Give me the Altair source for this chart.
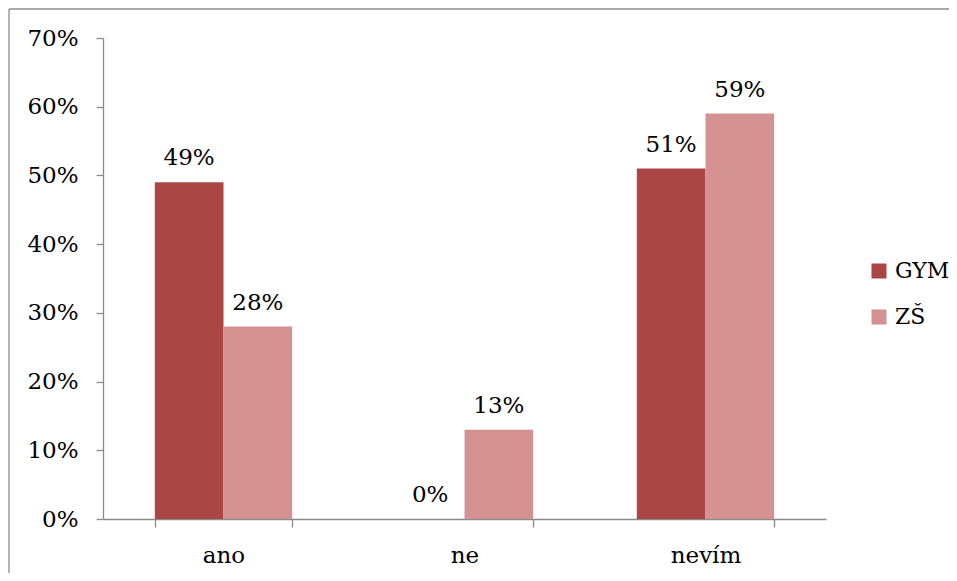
import altair as alt
import pandas as pd

categories = ["ano", "ne", "nevím"]
series = ["GYM", "ZŠ"]
gym_values = [0.49, 0.00, 0.51]
zs_values = [0.28, 0.13, 0.59]
colors = ["#AA4744", "#D39192"]
y_ticks = [0.0, 0.1, 0.2, 0.3, 0.4, 0.5, 0.6, 0.7]

rows = []
for i, c in enumerate(categories):
    rows.append({"kat": c, "skupina": series[0], "hodnota": gym_values[i]})
    rows.append({"kat": c, "skupina": series[1], "hodnota": zs_values[i]})
df = pd.DataFrame(rows)

FONT = "DejaVu Serif"
FS = 23
W, H = 723, 481
PL, PT, PR, PB = 95, 30, 123, 54
AXC = "#8a8a8a"

base = alt.Chart(df).encode(
    x=alt.X(
        "kat:N",
        sort=categories,
        title=None,
        scale=alt.Scale(paddingInner=0.43, paddingOuter=0.215),
        axis=alt.Axis(
            labelAngle=0,
            tickBand="extent",
            tickSize=8,
            labelPadding=35,
            labelBaseline="alphabetic",
            labelFont=FONT,
            labelFontSize=FS,
            labelColor="#000000",
            domainColor=AXC,
            tickColor=AXC,
            domainWidth=1.3,
            tickWidth=1.3,
            grid=False,
        ),
    ),
    xOffset=alt.XOffset("skupina:N", sort=series, scale=alt.Scale(paddingInner=0, paddingOuter=0)),
    y=alt.Y(
        "hodnota:Q",
        title=None,
        scale=alt.Scale(domain=[0, 0.7], nice=False),
        axis=alt.Axis(
            values=y_ticks,
            format=".0%",
            tickSize=7,
            labelPadding=18,
            labelFont=FONT,
            labelFontSize=FS,
            labelColor="#000000",
            domainColor=AXC,
            tickColor=AXC,
            domainWidth=1.3,
            tickWidth=1.3,
            grid=False,
        ),
    ),
)

bars = base.mark_bar().encode(
    color=alt.Color(
        "skupina:N",
        sort=series,
        scale=alt.Scale(domain=series, range=colors),
        legend=alt.Legend(
            title=None,
            orient="none",
            legendX=765,
            legendY=222,
            symbolType="square",
            symbolSize=225,
            symbolStrokeWidth=0,
            labelFont=FONT,
            labelFontSize=22,
            labelColor="#000000",
            labelOffset=5,
            rowPadding=24,
            padding=0,
        ),
    )
)

labels = base.mark_text(
    font=FONT, fontSize=FS, color="#000000", baseline="alphabetic", dy=-17
).encode(text=alt.Text("hodnota:Q", format=".0%"))

frame = pd.DataFrame({"a": [0]})
left_line = alt.Chart(frame).mark_rule(color="#8c8c8c", strokeWidth=1.3).encode(
    x=alt.value(-PL + 1), y=alt.value(-PT + 1), y2=alt.value(H + PB + 20)
)
top_line = alt.Chart(frame).mark_rule(color="#8c8c8c", strokeWidth=1.3).encode(
    y=alt.value(-PT + 1), x=alt.value(-PL + 1), x2=alt.value(W + PR + 40)
)
right_mask = alt.Chart(frame).mark_rule(color="#ffffff", strokeWidth=6).encode(
    x=alt.value(W + PR - 1), y=alt.value(-PT + 2), y2=alt.value(H + PB + 20)
)

chart = alt.layer(left_line, top_line, right_mask, bars, labels).properties(
    width=W,
    height=H,
    autosize=alt.AutoSizeParams(type="none"),
    padding={"left": PL, "top": PT, "right": PR, "bottom": PB},
).configure_view(stroke=None)

chart.save("out.html", embed_options={"renderer": "svg", "actions": False})
